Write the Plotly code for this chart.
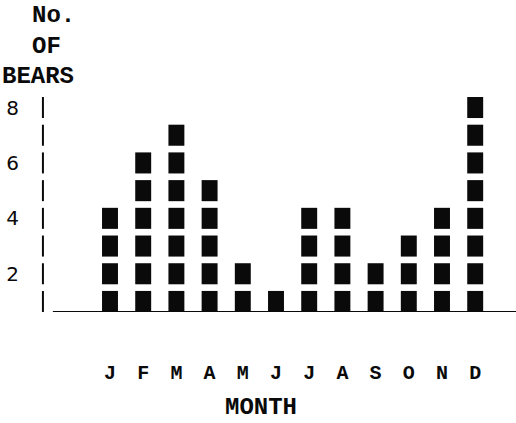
import plotly.graph_objects as go

months = ["J", "F", "M", "A", "M", "J", "J", "A", "S", "O", "N", "D"]
bears = [4, 6, 7, 5, 2, 1, 4, 4, 2, 3, 4, 8]
y_ticks = [2, 4, 6, 8]
y_title_lines = ["No.", "OF", "BEARS"]
x_title = "MONTH"

FONT = "Liberation Mono"
INK = "#0a0a0a"

# one block per bear
bx, bbase = [], []
for i, n in enumerate(bears):
    for k in range(1, n + 1):
        bx.append(i)
        bbase.append(k - 0.38)

fig = go.Figure()
fig.add_trace(go.Bar(
    x=bx, y=[0.76] * len(bx), base=bbase, width=0.48,
    marker=dict(color=INK, line=dict(width=0)),
    hoverinfo="skip",
))

# typewriter "|" axis marks at each level
levels = list(range(1, max(bears) + 1))
fig.add_trace(go.Scatter(
    x=[-2.02] * len(levels), y=levels, mode="markers",
    marker=dict(symbol="line-ns", size=15, line=dict(width=2, color=INK)),
    cliponaxis=False, hoverinfo="skip",
))

# baseline
fig.add_shape(type="line", xref="x", yref="y", x0=-1.72, x1=12.3, y0=0.62, y1=0.62,
              line=dict(color=INK, width=2))

fig.update_layout(
    width=516, height=423,
    margin=dict(l=30, r=0, t=0, b=111),
    paper_bgcolor="white", plot_bgcolor="white",
    showlegend=False, barmode="overlay",
    font=dict(family=FONT, color=INK),
    xaxis=dict(range=[-2.4096, 12.229], tickmode="array", tickvals=list(range(len(months))),
               ticktext=months, showgrid=False, zeroline=False, showline=False, ticks="",
               tickfont=dict(family=FONT, size=20, color=INK, weight="bold"),
               ticklabelstandoff=46, fixedrange=True),
    yaxis=dict(range=[0.62, 11.88], tickmode="array", tickvals=y_ticks,
               ticktext=[str(v) for v in y_ticks], showgrid=False, zeroline=False,
               showline=False, ticks="",
               tickfont=dict(family="DejaVu Sans", size=20, color=INK),
               ticklabelstandoff=10, fixedrange=True),
)

# y title lines, typewriter style
title_pos = [(30, 15), (30, 46), (0, 76)]
for txt, (px, py) in zip(y_title_lines, title_pos):
    fig.add_annotation(text=txt, xref="paper", yref="paper",
                       x=(px - 30) / 486, y=(312 - py) / 312,
                       xanchor="left", yanchor="middle", showarrow=False,
                       font=dict(family=FONT, size=24, color=INK, weight="bold"))

fig.add_annotation(text=x_title, xref="paper", yref="paper",
                   x=(261 - 30) / 486, y=(312 - 407) / 312,
                   xanchor="center", yanchor="middle", showarrow=False,
                   font=dict(family=FONT, size=24, color=INK, weight="bold"))

fig.write_html("out.html", config={"displayModeBar": False},
               post_script="document.body.style.margin='0px';document.body.style.overflow='hidden';")
